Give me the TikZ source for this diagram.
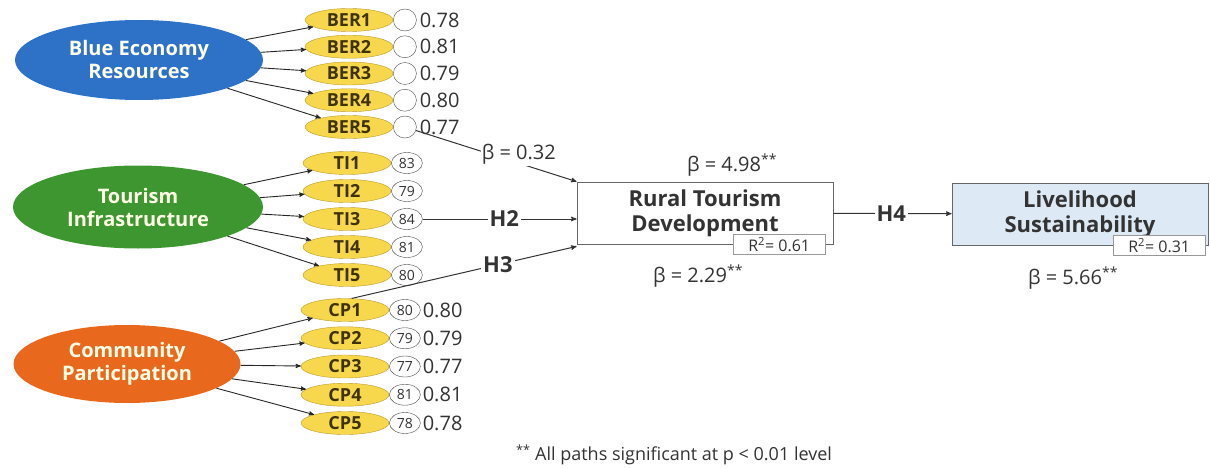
\documentclass[tikz,border=0pt]{standalone}
\usepackage{fontspec}
\setmainfont{Open Sans}
\usetikzlibrary{arrows,positioning,shapes.geometric}
\definecolor{berblue}{HTML}{2E72C8}
\definecolor{tigreen}{HTML}{3D9630}
\definecolor{cporange}{HTML}{E8691E}
\definecolor{indfill}{HTML}{F7D84C}
\definecolor{indline}{HTML}{B99B2C}
\definecolor{indtext}{HTML}{3E3208}
\definecolor{lsfill}{HTML}{DDEAF6}
\definecolor{txtgray}{HTML}{333333}
\tikzset{>=stealth',
         latent/.style={ellipse, inner sep=0pt, align=center, text=white!90!yellow,
                        font=\bfseries\fontsize{20}{23}\selectfont},
         ind/.style={ellipse, draw=indline, fill=indfill, minimum width=88pt,
                     minimum height=23pt, inner sep=0pt, text=indtext,
                     font=\bfseries\fontsize{18}{20}\selectfont},
         err/.style={ellipse, draw=black!70, fill=white, minimum width=23pt,
                     minimum height=22pt, inner sep=0pt, text=txtgray,
                     font=\fontsize{14}{15}\selectfont},
         errn/.style={err, minimum width=31pt, minimum height=21pt},
         val/.style={inner sep=0pt, text=txtgray, font=\fontsize{20}{22}\selectfont},
         load/.style={->, black!85, line width=0.9pt},
         construct/.style={draw=black!60, thick, minimum width=256pt, minimum height=62pt,
                           align=center, text=txtgray,
                           font=\bfseries\fontsize{22}{25}\selectfont},
         r2box/.style={draw=black!40, fill=white, minimum width=92pt, minimum height=20pt,
                       inner sep=0pt, text=txtgray, font=\fontsize{16}{17}\selectfont},
         hyp/.style={fill=white, inner sep=2pt, text=txtgray, font=\bfseries\fontsize{22}{24}\selectfont},
         coef/.style={inner sep=1pt, text=txtgray, font=\fontsize{20}{22}\selectfont},
         path/.style={->, black!80, line width=1pt}}
\begin{document}
\begin{tikzpicture}[x=1pt, y=-1pt]
  \useasboundingbox (0,0) rectangle (1210,468);

  % latent constructs
  \node[latent, fill=berblue, minimum width=248pt, minimum height=80pt] (BER) at (139,60)
       {Blue Economy\\Resources};
  \node[latent, fill=tigreen, minimum width=250pt, minimum height=83pt] (TI) at (138,207)
       {Tourism\\Infrastructure};
  \node[latent, fill=cporange, minimum width=227pt, minimum height=78pt] (CP) at (127,364)
       {Community\\Participation};

  % indicators
  \foreach \i/\v in {1/0.78,2/0.81,3/0.79,4/0.80,5/0.77} {
    \node[ind] (BER\i) at (349,{20+26.75*(\i-1)}) {BER\i};
    \node[err, right=0pt of BER\i] (eBER\i) {};
    \node[val, right=3pt of eBER\i] {\v};
    \draw[load] (BER) -- (BER\i);
  }
  \foreach \i/\n in {1/83,2/79,3/84,4/81,5/80} {
    \node[ind] (TI\i) at (347,{163+28*(\i-1)}) {TI\i};
    \node[errn, right=0pt of TI\i] (eTI\i) {\n};
    \draw[load] (TI) -- (TI\i);
  }
  \foreach \i/\n/\v in {1/80/0.80,2/79/0.79,3/77/0.77,4/81/0.81,5/78/0.78} {
    \node[ind] (CP\i) at (345,{310+28.25*(\i-1)}) {CP\i};
    \node[errn, right=0pt of CP\i] (eCP\i) {\n};
    \node[val, right=2pt of eCP\i] {\v};
    \draw[load] (CP) -- (CP\i);
  }

  % structural model
  \node[construct, fill=white] (RTD) at (705,213) {Rural Tourism\\Development};
  \node[construct, fill=lsfill] (LS) at (1080,214) {Livelihood\\Sustainability};
  \node[r2box, anchor=east] (r2RTD) at ([xshift=-8pt]RTD.south east) {R\textsuperscript{2}= 0.61};
  \node[r2box, anchor=east] (r2LS) at ([xshift=-3pt]LS.south east) {R\textsuperscript{2}= 0.31};

  \draw[path] (eBER5) -- node[coef, pos=0.64, above=-3pt, fill=white] {β = 0.32} (RTD.north west);
  \draw[path] (eTI3) -- node[hyp, pos=0.53] {H2} (eTI3 -| RTD.west);
  \draw[path] (CP1.60) -- node[hyp, pos=0.65] {H3} ([yshift=-2pt]RTD.south west);
  \draw[path] (RTD) -- node[hyp, pos=0.49] {H4} (LS);

  \node[coef, above=4pt of RTD, xshift=27pt] (bRTD) {β = 4.98\textsuperscript{**}};
  \node[coef, below=19pt of RTD, xshift=-7pt] (gRTD) {β = 2.29\textsuperscript{**}};
  \node[coef, below=20pt of LS, xshift=-7pt] (bLS) {β = 5.66\textsuperscript{**}};

  \node[text=txtgray, font=\fontsize{18}{19}\selectfont] (note) at (674,455)
       {\textsuperscript{**} All paths significant at p < 0.01 level};
\end{tikzpicture}
\end{document}
